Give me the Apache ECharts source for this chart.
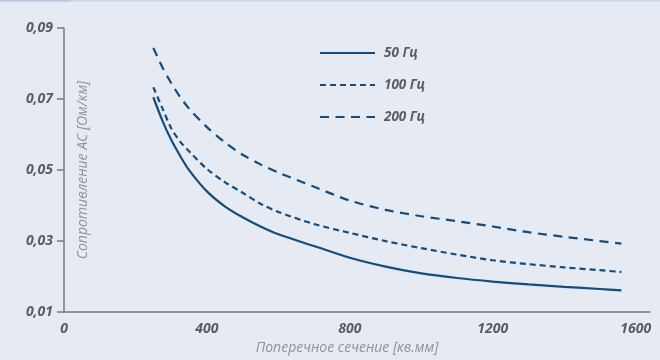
<!DOCTYPE html>
<html>
<head>
<meta charset="utf-8">
<script src="https://cdn.jsdelivr.net/npm/echarts@6/dist/echarts.min.js"></script>
<style>
html,body{margin:0;padding:0;background:#e6eaf2;}
#c{width:660px;height:360px;}
</style>
</head>
<body>
<div id="c"></div>
<script>
// Cross-section [sq.mm]
var sections = [250, 275, 300, 325, 350, 400, 450, 500, 550, 600, 700, 800, 900, 1000, 1100, 1200, 1300, 1400, 1500, 1560];
// AC resistance [Ohm/km]
var r50  = [0.0705, 0.0640, 0.0585, 0.0540, 0.0500, 0.0440, 0.0398, 0.0367, 0.0341, 0.0319, 0.0286, 0.0253, 0.0228, 0.0209, 0.0196, 0.0186, 0.0178, 0.0171, 0.0165, 0.0161];
var r100 = [0.0733, 0.0675, 0.0618, 0.0580, 0.0553, 0.0503, 0.0466, 0.0436, 0.0405, 0.0382, 0.0348, 0.0323, 0.0300, 0.0280, 0.0262, 0.0246, 0.0235, 0.0226, 0.0218, 0.0213];
var r200 = [0.0844, 0.0790, 0.0745, 0.0706, 0.0673, 0.0621, 0.0578, 0.0543, 0.0516, 0.0493, 0.0453, 0.0414, 0.0388, 0.0370, 0.0356, 0.0341, 0.0325, 0.0312, 0.0300, 0.0293];
var seriesNames = ['50 Гц', '100 Гц', '200 Гц'];
var xTicks = [0, 400, 800, 1200, 1600];
var yTicks = [0.01, 0.03, 0.05, 0.07, 0.09];

var lineColor = '#134d7d';
var labelColor = '#5c5c60';
var nameColor = '#8f9298';
function pairs(vals){ return sections.map(function(s,i){ return [s, vals[i]]; }); }

var chart = echarts.init(document.getElementById('c'));
chart.setOption({
  backgroundColor: '#e6eaf2',
  animation: false,
  graphic: [
    {type:'rect', left:0, top:0, shape:{width:660, height:1.5}, style:{fill:'#c9d6e8'}},
    {type:'rect', left:0, top:0, shape:{width:70, height:1.5}, style:{fill:'#b7c8e0'}}
  ],
  grid: {left: 64, right: 10, top: 28, bottom: 43},
  legend: {
    orient: 'vertical', left: 319, top: 46, padding: 0,
    itemWidth: 55, itemHeight: 14, itemGap: 18,
    data: seriesNames,
    itemStyle: {opacity: 0},
    textStyle: {color: labelColor, fontFamily: 'Open Sans', fontStyle: 'italic', fontWeight: 'bold', fontSize: 13.5, padding:[0,0,0,4]}
  },
  xAxis: {
    type: 'value', min: 0, max: 1640, interval: 400,
    name: 'Поперечное сечение [кв.мм]', nameLocation: 'middle', nameGap: 27,
    nameTextStyle: {color: nameColor, fontFamily: 'Open Sans', fontStyle: 'italic', fontWeight: 'normal', fontSize: 14, padding:[0,20,0,0]},
    axisLine: {show: true, lineStyle: {color: '#7a7a7e', width: 1.5}},
    axisTick: {show: false},
    splitLine: {show: false},
    axisLabel: {
      margin: 10, color: labelColor, fontFamily: 'Open Sans', fontStyle: 'italic', fontWeight: 'bold', fontSize: 14,
      formatter: function(v){ return xTicks.indexOf(v) >= 0 ? String(v) : ''; }
    }
  },
  yAxis: {
    type: 'value', min: 0.01, max: 0.09, interval: 0.02,
    name: 'Сопротивление АС [Ом/км]', nameLocation: 'middle', nameGap: -26, nameRotate: 90,
    nameTextStyle: {color: nameColor, fontFamily: 'Open Sans', fontStyle: 'italic', fontWeight: 'normal', fontSize: 14},
    axisLine: {show: true, lineStyle: {color: '#7a7a7e', width: 1.5}},
    axisTick: {show: true, length: 7, lineStyle: {color: '#7a7a7e', width: 1.5}},
    splitLine: {show: false},
    axisLabel: {
      margin: 11, color: labelColor, fontFamily: 'Open Sans', fontStyle: 'italic', fontWeight: 'bold', fontSize: 14,
      formatter: function(v){
        for (var i=0;i<yTicks.length;i++){ if (Math.abs(yTicks[i]-v) < 1e-9) return yTicks[i].toFixed(2).replace('.', ','); }
        return '';
      }
    }
  },
  series: [
    {name: seriesNames[0], type: 'line', data: pairs(r50), smooth: 0.3, symbol: 'none',
     lineStyle: {color: lineColor, width: 2.2, type: 'solid'}, itemStyle:{color: lineColor}},
    {name: seriesNames[1], type: 'line', data: pairs(r100), smooth: 0.3, symbol: 'none',
     lineStyle: {color: lineColor, width: 2.2, type: [6, 4]}, itemStyle:{color: lineColor}},
    {name: seriesNames[2], type: 'line', data: pairs(r200), smooth: 0.3, symbol: 'none',
     lineStyle: {color: lineColor, width: 2.2, type: [9, 6.5]}, itemStyle:{color: lineColor}}
  ]
});
</script>
</body>
</html>
